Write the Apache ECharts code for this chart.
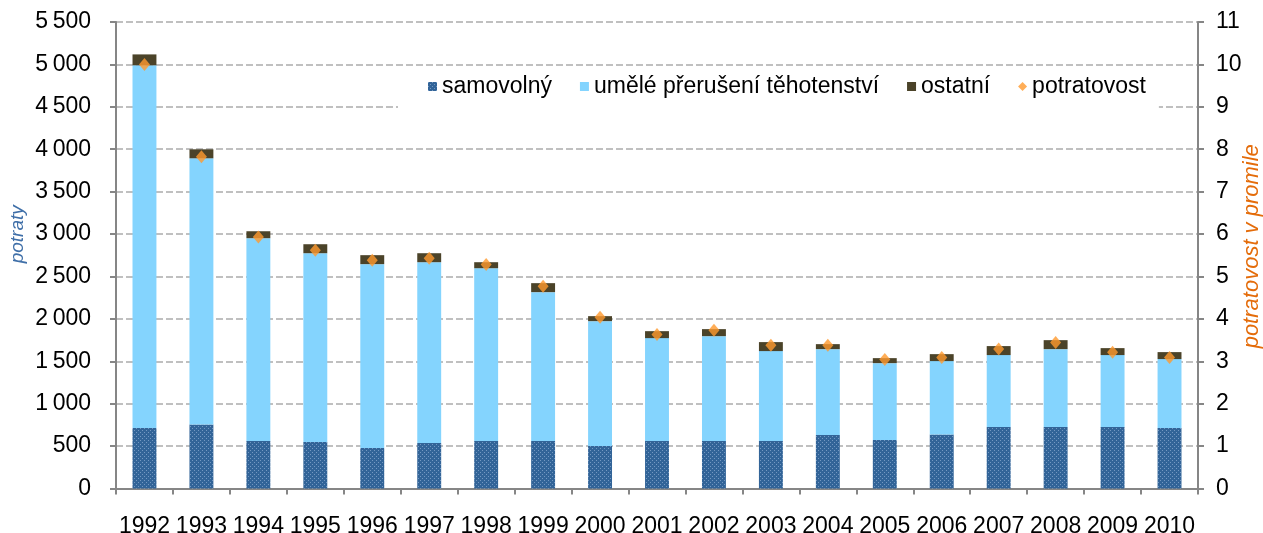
<!DOCTYPE html>
<html>
<head>
<meta charset="utf-8">
<script src="https://cdn.jsdelivr.net/npm/echarts@6/dist/echarts.min.js"></script>
<style>
html,body{margin:0;padding:0;background:#fff;}
#chart{width:1263px;height:533px;}
</style>
</head>
<body>
<div id="chart"></div>
<script>
const years = ['1992','1993','1994','1995','1996','1997','1998','1999','2000','2001','2002','2003','2004','2005','2006','2007','2008','2009','2010'];
const samovolny = [713, 756, 560, 548, 477, 536, 560, 560, 501, 560, 560, 560, 630, 571, 638, 724, 724, 724, 713];
const umele = [4276, 3137, 2391, 2226, 2168, 2132, 2037, 1755, 1472, 1213, 1236, 1060, 1013, 907, 864, 849, 919, 849, 813];
const ostatni = [129, 106, 82, 106, 106, 106, 71, 106, 59, 82, 83, 106, 59, 59, 82, 106, 106, 82, 82];
const potratovost = [10.0, 7.82, 5.93, 5.62, 5.38, 5.43, 5.28, 4.77, 4.04, 3.63, 3.73, 3.38, 3.38, 3.04, 3.09, 3.29, 3.44, 3.21, 3.09];
const leftTicks = {min: 0, max: 5500, interval: 500};
const rightTicks = {min: 0, max: 11, interval: 1};

const FONT = '"Liberation Sans", Arial, sans-serif';

// dotted pattern for "samovolný"
const pc = document.createElement('canvas');
pc.width = 4; pc.height = 4;
const px = pc.getContext('2d');
px.fillStyle = '#326498';
px.fillRect(0, 0, 4, 4);
px.fillStyle = '#7398c2';
px.fillRect(0, 0, 1, 1);
px.fillRect(2, 2, 1, 1);
const patternColor = {image: pc, repeat: 'repeat'};

function fmtThousands(v) {
  const s = String(Math.round(v));
  return s.replace(/\B(?=(\d{3})+(?!\d))/g, '\u2009');
}

const chart = echarts.init(document.getElementById('chart'), null, {renderer: 'canvas'});
chart.setOption({
  animation: false,
  backgroundColor: '#ffffff',
  textStyle: {fontFamily: FONT},
  grid: {left: 116, right: 65, top: 22, bottom: 44.5, containLabel: false, outerBoundsMode: 'none'},
  legend: {
    left: 398, top: 71,
    padding: [4, 13, 10, 30],
    backgroundColor: '#ffffff',
    itemWidth: 9, itemHeight: 9, itemGap: 28,
    textStyle: {fontFamily: FONT, fontSize: 23, color: '#000'},
    data: [
      {name: 'samovolný', icon: 'rect'},
      {name: 'umělé přerušení těhotenství', icon: 'rect'},
      {name: 'ostatní', icon: 'rect'},
      {name: 'potratovost', icon: 'diamond'}
    ]
  },
  xAxis: {
    type: 'category',
    data: years,
    axisLine: {lineStyle: {color: '#868686', width: 2}},
    axisTick: {show: true, length: 6, lineStyle: {color: '#868686', width: 2}},
    axisLabel: {fontSize: 23, color: '#000', fontFamily: FONT, margin: 27, interval: 0}
  },
  yAxis: [
    {
      type: 'value',
      min: leftTicks.min, max: leftTicks.max, interval: leftTicks.interval,
      name: 'potraty',
      nameLocation: 'middle',
      nameGap: 89,
      nameRotate: 90,
      nameMoveOverlap: false,
      nameTextStyle: {fontFamily: FONT, fontSize: 19, fontStyle: 'italic', color: '#3f6fa8', padding: [0, 0, 0, 42]},
      axisLine: {show: true, lineStyle: {color: '#868686', width: 2}},
      axisTick: {show: true, length: 6, inside: false, lineStyle: {color: '#868686', width: 2}},
      axisLabel: {fontSize: 23, color: '#000', fontFamily: FONT, margin: 25, formatter: fmtThousands},
      splitLine: {show: true, lineStyle: {color: '#c0c0c0', width: 2, type: [7, 3]}}
    },
    {
      type: 'value',
      position: 'right',
      min: rightTicks.min, max: rightTicks.max, interval: rightTicks.interval,
      name: 'potratovost v promile',
      nameLocation: 'middle',
      nameGap: 43,
      nameRotate: 90,
      nameMoveOverlap: false,
      nameTextStyle: {fontFamily: FONT, fontSize: 22, fontStyle: 'italic', color: '#e46c0a', padding: [0, 0, 0, 18]},
      axisLine: {show: true, lineStyle: {color: '#868686', width: 2}},
      axisTick: {show: true, length: 6, lineStyle: {color: '#868686', width: 2}},
      axisLabel: {fontSize: 23, color: '#000', fontFamily: FONT, margin: 18},
      splitLine: {show: false}
    }
  ],
  series: [
    {
      name: 'samovolný', type: 'bar', stack: 'p', data: samovolny,
      barWidth: '42%',
      itemStyle: {color: patternColor}
    },
    {
      name: 'umělé přerušení těhotenství', type: 'bar', stack: 'p', data: umele,
      itemStyle: {color: '#84d4fe'}
    },
    {
      name: 'ostatní', type: 'bar', stack: 'p', data: ostatni,
      itemStyle: {color: '#4b4329'}
    },
    {
      name: 'potratovost', type: 'scatter', yAxisIndex: 1, data: potratovost,
      symbol: 'diamond', symbolSize: [11, 13],
      itemStyle: {color: '#ff9a2e'},
      z: 5
    }
  ]
});
</script>
</body>
</html>
